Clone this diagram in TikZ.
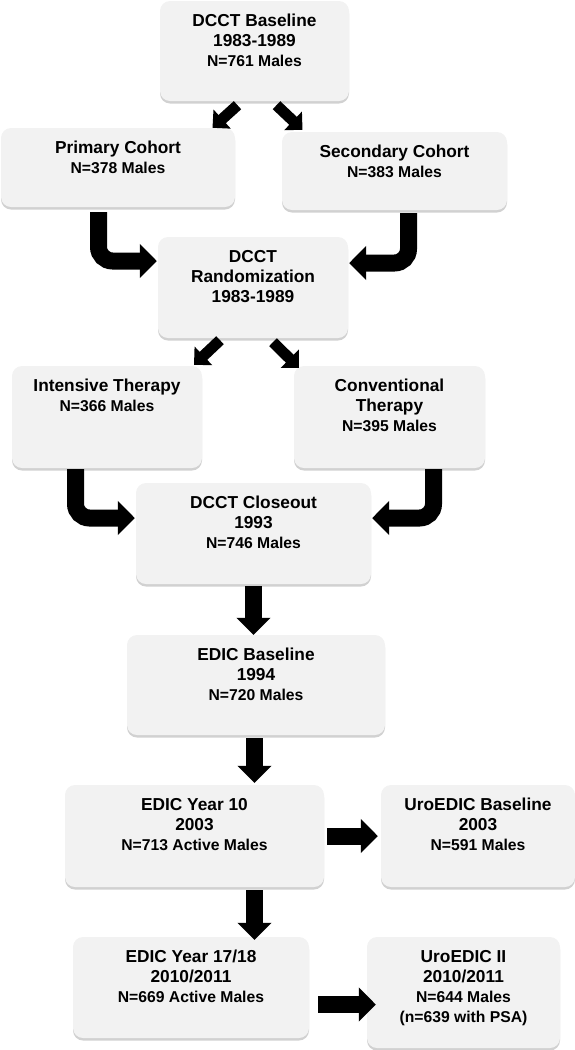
\documentclass[tikz,border=0pt]{standalone}
\usepackage{fontspec}
\setmainfont{Liberation Sans}
\usetikzlibrary{arrows.meta,shadows}

\newcommand{\nline}[1]{{\fontsize{15.7}{20}\selectfont #1}}

\tikzset{
	box/.style={rectangle, rounded corners=10pt, fill=black!5, draw=none, inner sep=0pt,
		drop shadow={shadow xshift=0pt, shadow yshift=-2.5pt, fill=black!30, opacity=0.6}},
	boxtext/.style={anchor=north, yshift=-13pt, inner sep=0pt, align=center,
		font=\fontsize{17.3}{20}\selectfont\bfseries},
	bigarrow/.style={line width=17pt, -{Triangle[length=17pt,width=33pt]}},
	diagarrow/.style={line width=11pt, -{Triangle[length=13pt,width=25pt]}}
}

\begin{document}
\begin{tikzpicture}[x=1pt, y=-1pt]
		\useasboundingbox (0,0) rectangle (575,1050);
		
		%dcct part
		\node[box, minimum width=189pt, minimum height=100pt,
			label={[boxtext]north:{DCCT Baseline\\1983-1989\\\nline{N=761 Males}}}] (dbase) at (254.5,51) {};
		\node[box, minimum width=234pt, minimum height=79pt,
			label={[boxtext]north:{Primary Cohort\\\nline{N=378 Males}}}] (prim) at (118,167.5) {};
		\node[box, minimum width=225pt, minimum height=78pt,
			label={[boxtext]north:{Secondary Cohort\\\nline{N=383 Males}}}] (sec) at (394.5,171) {};
		\node[box, minimum width=190pt, minimum height=101pt,
			label={[boxtext]north:{DCCT\\Randomization\\1983-1989}}] (rand) at (253,287.5) {};
		\node[box, minimum width=190pt, minimum height=102pt,
			label={[boxtext]north:{Intensive Therapy\\\nline{N=366 Males}}}] (inten) at (107,417) {};
		\node[box, minimum width=191pt, minimum height=102pt,
			label={[boxtext]north:{Conventional\\Therapy\\\nline{N=395 Males}}}] (conv) at (389.5,417) {};
		\node[box, minimum width=235pt, minimum height=101pt,
			label={[boxtext]north:{DCCT Closeout\\1993\\\nline{N=746 Males}}}] (close) at (253.5,533.5) {};
		
		%edic part
		\node[box, minimum width=258pt, minimum height=100pt,
			label={[boxtext]north:{EDIC Baseline\\1994\\\nline{N=720 Males}}}] (ebase) at (256,685) {};
		\node[box, minimum width=259pt, minimum height=102pt,
			label={[boxtext]north:{EDIC Year 10\\2003\\\nline{N=713 Active Males}}}] (yten) at (194.5,836) {};
		\node[box, minimum width=194pt, minimum height=102pt,
			label={[boxtext]north:{UroEDIC Baseline\\2003\\\nline{N=591 Males}}}] (uro) at (478,836) {};
		\node[box, minimum width=236pt, minimum height=101pt,
			label={[boxtext]north:{EDIC Year 17/18\\2010/2011\\\nline{N=669 Active Males}}}] (yseven) at (191,987.5) {};
		\node[box, minimum width=193pt, minimum height=111pt,
			label={[boxtext]north:{UroEDIC II\\2010/2011\\\nline{N=644 Males}\\\nline{(n=639 with PSA)}}}] (urotwo) at (463.5,992.5) {};
		
		%arrows
		\draw[diagarrow] ([xshift=-17pt,yshift=-4pt]dbase.south) -- ([xshift=94.5pt]prim.north);
		\draw[diagarrow] ([xshift=22pt,yshift=-4pt]dbase.south) -- ([xshift=-92pt,yshift=2pt]sec.north);
		\draw[bigarrow, rounded corners=14pt] ([xshift=-19.5pt,yshift=-5pt]prim.south) |- ([xshift=-1pt,yshift=26.5pt]rand.west);
		\draw[bigarrow, rounded corners=14pt] ([xshift=14pt,yshift=-3pt]sec.south) |- ([xshift=1pt,yshift=24.5pt]rand.east);
		
		\draw[diagarrow] ([xshift=-33pt,yshift=-2pt]rand.south) -- ([xshift=87pt,yshift=1pt]inten.north);
		\draw[diagarrow] ([xshift=20pt,yshift=-4pt]rand.south) -- ([xshift=-90.5pt,yshift=-2pt]conv.north);
		\draw[bigarrow, rounded corners=14pt] ([xshift=-31.5pt,yshift=-1pt]inten.south) |- ([xshift=-1pt,yshift=15.5pt]close.west);
		\draw[bigarrow, rounded corners=14pt] ([xshift=44pt,yshift=-1pt]conv.south) |- ([xshift=1pt,yshift=15.5pt]close.east);
		
		\draw[bigarrow] ([yshift=-2pt]close.south) -- (close.south |- ebase.north);
		\draw[bigarrow] ([xshift=-1.5pt,yshift=-3pt]ebase.south) -- ([xshift=-1.5pt,yshift=2pt]ebase.south |- yten.north);
		\draw[bigarrow] ([xshift=60pt,yshift=-3pt]yten.south) -- ([xshift=60pt,yshift=-3pt]yten.south |- yseven.north);
		\draw[bigarrow] ([xshift=3pt]yten.east) -- ([xshift=-3pt]uro.west);
		\draw[bigarrow] ([xshift=9pt,yshift=-17pt]yseven.east) -- ([xshift=9pt,yshift=-17pt]yseven.east -| urotwo.west);
\end{tikzpicture}
\end{document}
